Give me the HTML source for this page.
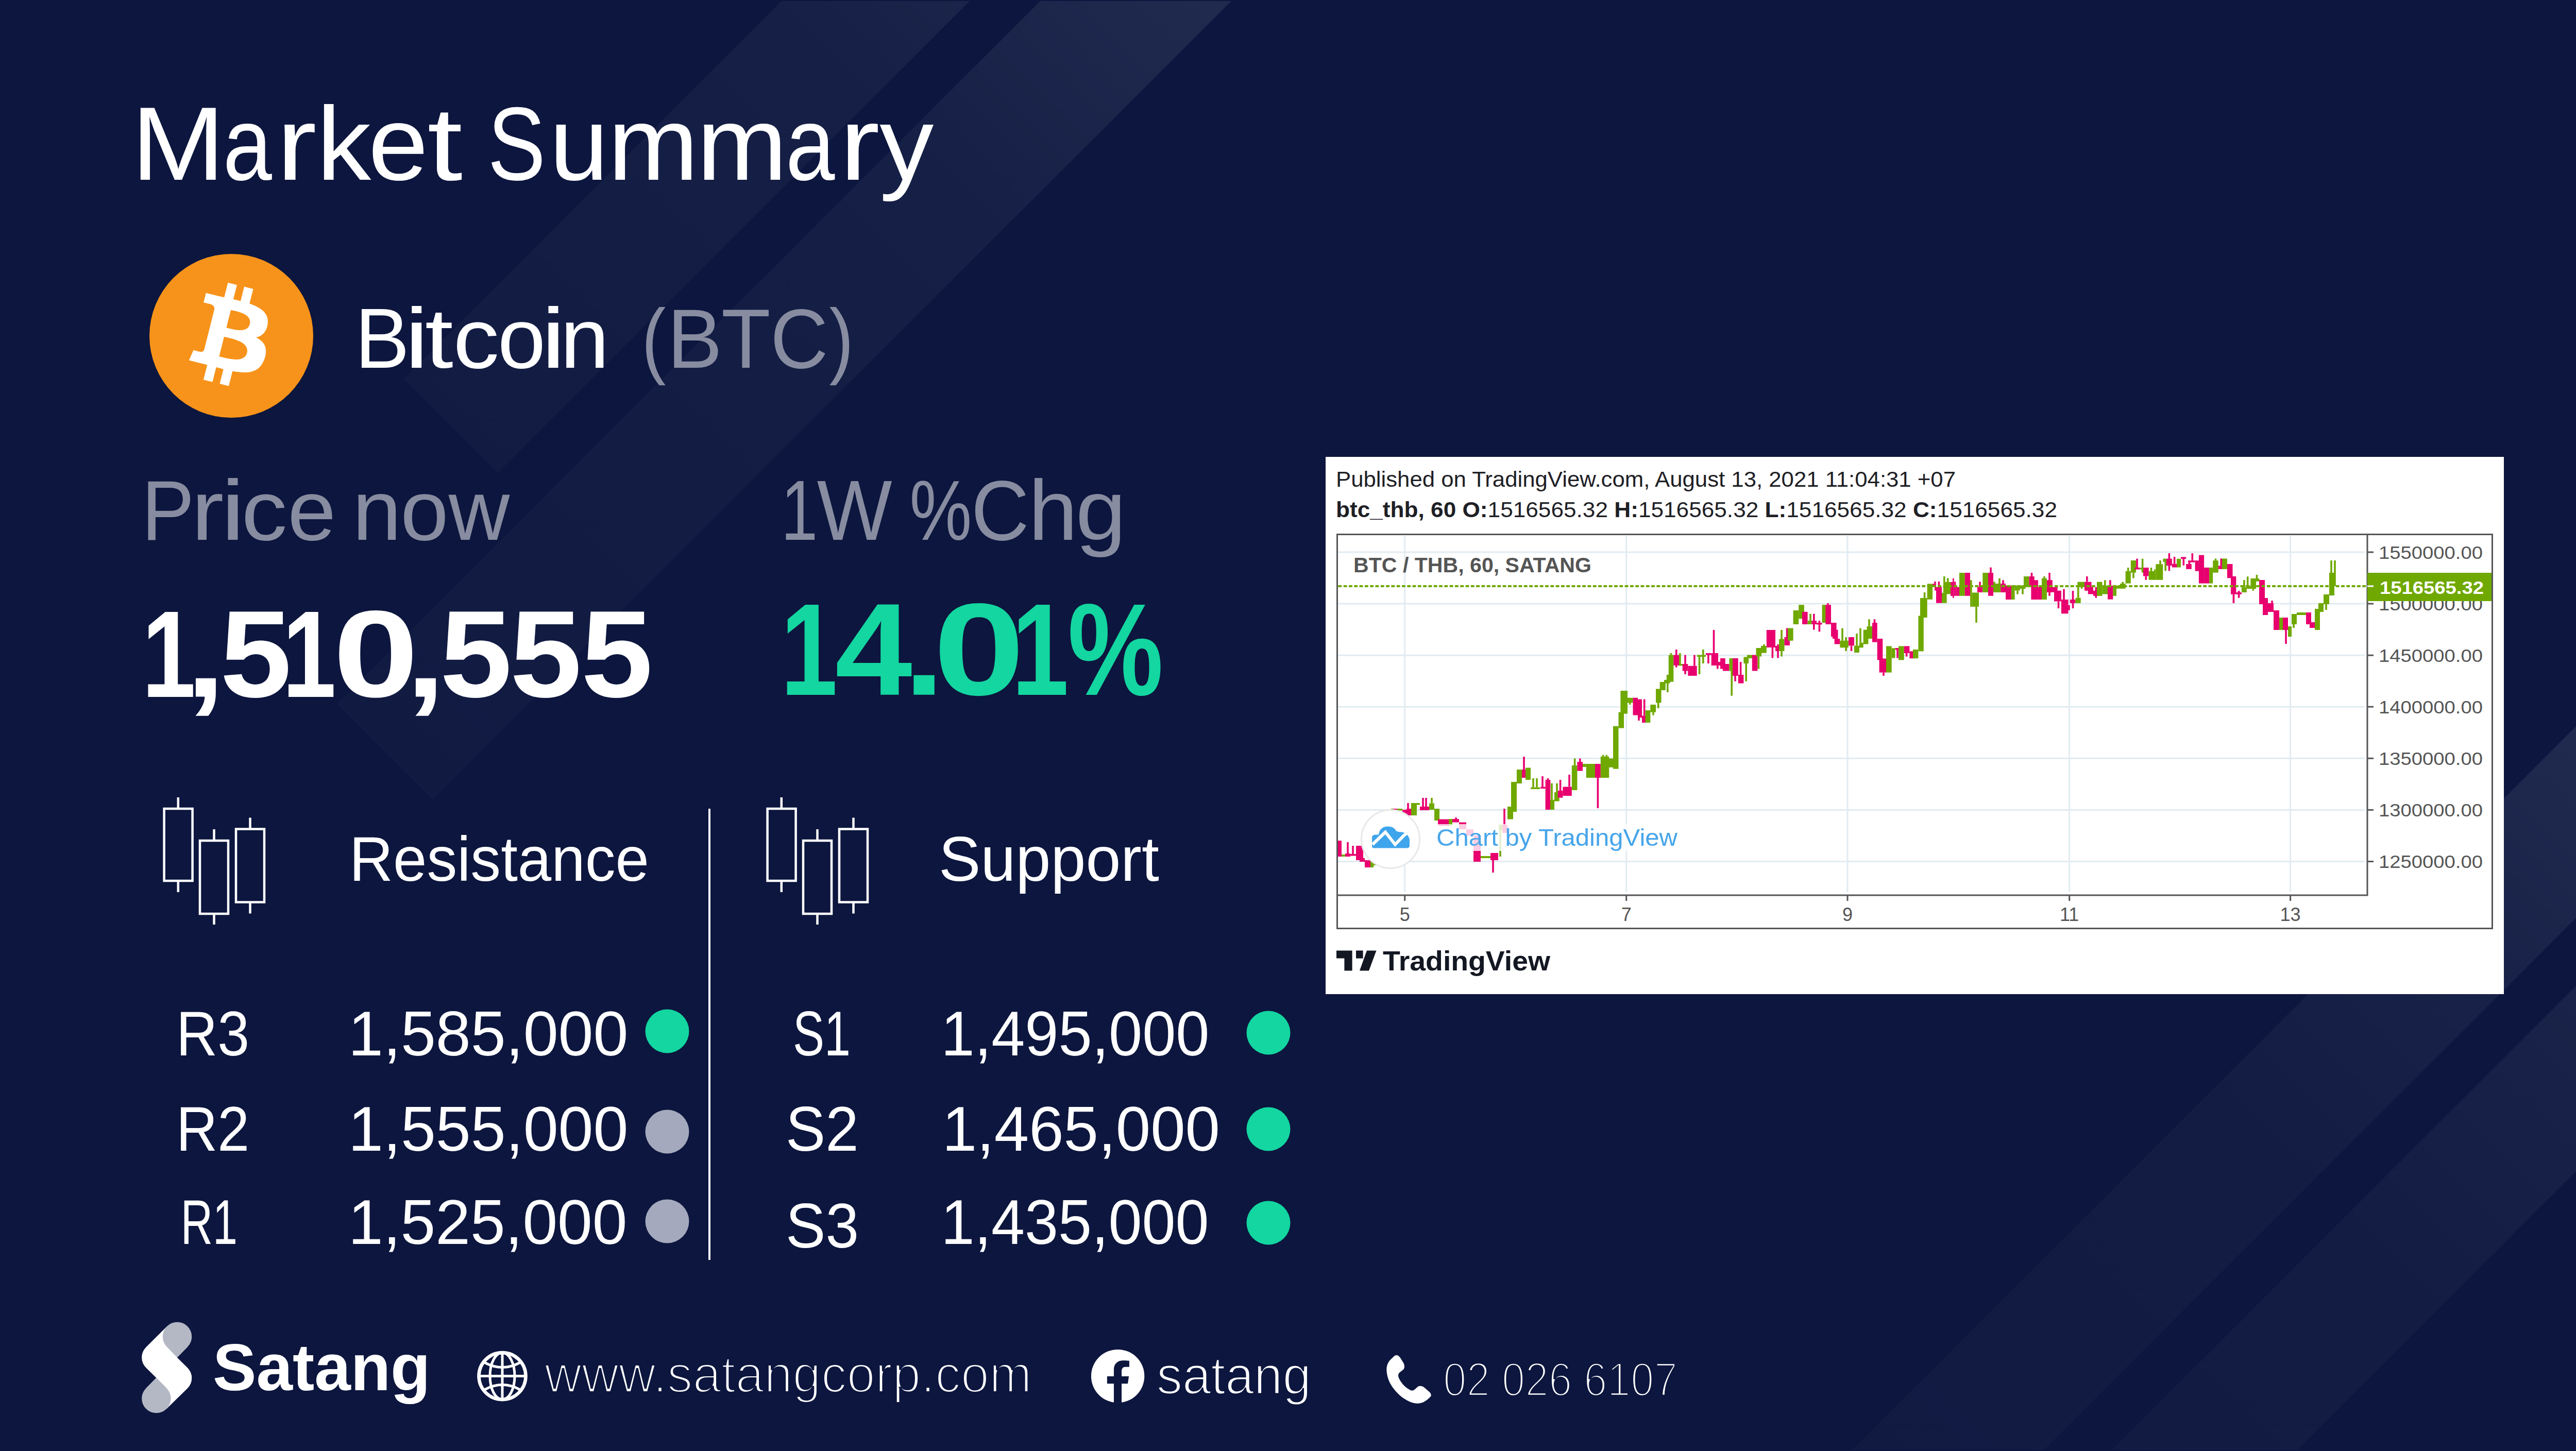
<!DOCTYPE html>
<html><head><meta charset="utf-8"><title>Market Summary</title>
<style>
html,body{margin:0;padding:0;background:#0c163e;overflow:hidden;}
svg{display:block;font-family:"Liberation Sans",sans-serif;}
</style></head>
<body>
<svg width="5004" height="2817" viewBox="0 0 5004 2817">
<rect x="0" y="0" width="5004" height="2817" fill="#0c163e"/>
<defs>
<linearGradient id="bandTL" gradientUnits="userSpaceOnUse" x1="-356" y1="356" x2="1196" y2="-1196">
  <stop offset="0" stop-color="#ffffff" stop-opacity="0.022"/>
  <stop offset="0.33" stop-color="#ffffff" stop-opacity="0.028"/>
  <stop offset="0.71" stop-color="#ffffff" stop-opacity="0.042"/>
  <stop offset="0.89" stop-color="#ffffff" stop-opacity="0.07"/>
  <stop offset="1" stop-color="#ffffff" stop-opacity="0.085"/>
</linearGradient>
<linearGradient id="bandBR" gradientUnits="userSpaceOnUse" x1="388" y1="-388" x2="1798.5" y2="-1798.5">
  <stop offset="0" stop-color="#ffffff" stop-opacity="0.022"/>
  <stop offset="0.5" stop-color="#ffffff" stop-opacity="0.03"/>
  <stop offset="0.79" stop-color="#ffffff" stop-opacity="0.055"/>
  <stop offset="1" stop-color="#ffffff" stop-opacity="0.085"/>
</linearGradient>
<clipPath id="bgclip"><rect x="0" y="2" width="5001" height="2813"/></clipPath>
</defs>
<g clip-path="url(#bgclip)">
<polygon points="1517.0,2.0 1882.0,2.0 966.0,918.0 783.5,735.5" fill="url(#bandTL)"/>
<polygon points="2019.0,2.0 2390.0,2.0 840.0,1552.0 654.5,1366.5" fill="url(#bandTL)"/>
<polygon points="3590.0,2820.0 3962.0,2820.0 5010.0,1772.0 5010.0,1400.0" fill="url(#bandBR)"/>
<polygon points="4094.0,2820.0 4454.0,2820.0 5010.0,2264.0 5010.0,1904.0" fill="url(#bandBR)"/>
</g>
<text transform="translate(255.03,349) scale(1.0720,1)" x="0" y="0" font-size="203.20" fill="#ffffff" >M</text><text transform="translate(432.84,349) scale(0.8412,1)" x="0" y="0" font-size="203.20" fill="#ffffff" >a</text><text transform="translate(536.73,349) scale(1.1496,1)" x="0" y="0" font-size="203.20" fill="#ffffff" >r</text><text transform="translate(614.77,349) scale(1.0377,1)" x="0" y="0" font-size="203.20" fill="#ffffff" >k</text><text transform="translate(714.80,349) scale(1.0303,1)" x="0" y="0" font-size="203.20" fill="#ffffff" >e</text><text transform="translate(829.29,349) scale(1.2158,1)" x="0" y="0" font-size="203.20" fill="#ffffff" >t</text><text transform="translate(946.41,349) scale(0.8302,1)" x="0" y="0" font-size="203.20" fill="#ffffff" >S</text><text transform="translate(1066.42,349) scale(1.0132,1)" x="0" y="0" font-size="203.20" fill="#ffffff" >u</text><text transform="translate(1180.07,349) scale(1.0377,1)" x="0" y="0" font-size="203.20" fill="#ffffff" >m</text><text transform="translate(1352.48,349) scale(1.0370,1)" x="0" y="0" font-size="203.20" fill="#ffffff" >m</text><text transform="translate(1524.91,349) scale(0.8441,1)" x="0" y="0" font-size="203.20" fill="#ffffff" >a</text><text transform="translate(1629.83,349) scale(1.1496,1)" x="0" y="0" font-size="203.20" fill="#ffffff" >r</text><text transform="translate(1707.17,349) scale(1.0340,1)" x="0" y="0" font-size="203.20" fill="#ffffff" >y</text>
<circle cx="449" cy="652" r="159" fill="#f7931a"/>
<g transform="translate(449,652) scale(5.0,4.95) translate(-32,-32)"><path fill="#fff" d="m46.103,27.444c0.637-4.258-2.605-6.547-7.038-8.074l1.438-5.768-3.511-0.875-1.4,5.616c-0.923-0.23-1.871-0.447-2.813-0.662l1.41-5.653-3.509-0.875-1.439,5.766c-0.764-0.174-1.514-0.346-2.242-0.527l0.004-0.018-4.842-1.209-0.934,3.75s2.605,0.597,2.55,0.634c1.422,0.355,1.679,1.296,1.636,2.042l-1.638,6.571c0.098,0.025,0.225,0.061,0.365,0.117-0.117-0.029-0.242-0.061-0.371-0.092l-2.296,9.205c-0.174,0.432-0.615,1.08-1.609,0.834,0.035,0.051-2.552-0.637-2.552-0.637l-1.743,4.019,4.569,1.139c0.85,0.213,1.683,0.436,2.503,0.646l-1.453,5.834,3.507,0.875,1.439-5.772c0.958,0.26,1.888,0.5,2.798,0.726l-1.434,5.745,3.511,0.875,1.453-5.823c5.987,1.133,10.489,0.676,12.384-4.739,1.527-4.36-0.076-6.875-3.226-8.515,2.294-0.529,4.022-2.038,4.483-5.155zm-8.022,11.249c-1.085,4.36-8.426,2.003-10.806,1.412l1.928-7.729c2.38,0.594,10.012,1.77,8.878,6.317zm1.086-11.312c-0.99,3.966-7.1,1.951-9.082,1.457l1.748-7.01c1.982,0.494,8.365,1.416,7.334,5.553z"/></g>
<text transform="translate(688.91,713.9) scale(0.9646,1)" x="0" y="0" font-size="164.51" fill="#ffffff" >B</text><text transform="translate(785.11,713.9) scale(1.3000,1)" x="0" y="0" font-size="164.51" fill="#ffffff" >i</text><text transform="translate(824.83,713.9) scale(1.2038,1)" x="0" y="0" font-size="164.51" fill="#ffffff" >t</text><text transform="translate(879.39,713.9) scale(1.0885,1)" x="0" y="0" font-size="164.51" fill="#ffffff" >c</text><text transform="translate(965.89,713.9) scale(1.0163,1)" x="0" y="0" font-size="164.51" fill="#ffffff" >o</text><text transform="translate(1050.21,713.9) scale(1.3000,1)" x="0" y="0" font-size="164.51" fill="#ffffff" >i</text><text transform="translate(1087.50,713.9) scale(1.0359,1)" x="0" y="0" font-size="164.51" fill="#ffffff" >n</text>
<text transform="translate(1245.34,713.5) scale(0.8653,1)" x="0" y="0" font-size="163.78" fill="#878ca0" >(</text><text transform="translate(1295.20,713.5) scale(0.9769,1)" x="0" y="0" font-size="163.78" fill="#878ca0" >B</text><text transform="translate(1400.08,713.5) scale(0.9553,1)" x="0" y="0" font-size="163.78" fill="#878ca0" >T</text><text transform="translate(1495.22,713.5) scale(0.9499,1)" x="0" y="0" font-size="163.78" fill="#878ca0" >C</text><text transform="translate(1609.53,713.5) scale(0.8722,1)" x="0" y="0" font-size="163.78" fill="#878ca0" >)</text>
<text transform="translate(274.96,1048.1) scale(0.9290,1)" x="0" y="0" font-size="164.95" fill="#878ca0" >P</text><text transform="translate(371.05,1048.1) scale(1.1543,1)" x="0" y="0" font-size="164.95" fill="#878ca0" >r</text><text transform="translate(428.19,1048.1) scale(1.3000,1)" x="0" y="0" font-size="164.95" fill="#878ca0" >i</text><text transform="translate(468.44,1048.1) scale(1.0786,1)" x="0" y="0" font-size="164.95" fill="#878ca0" >c</text><text transform="translate(558.13,1048.1) scale(1.0229,1)" x="0" y="0" font-size="164.95" fill="#878ca0" >e</text><text transform="translate(684.05,1048.1) scale(1.0375,1)" x="0" y="0" font-size="164.95" fill="#878ca0" >n</text><text transform="translate(777.27,1048.1) scale(1.0175,1)" x="0" y="0" font-size="164.95" fill="#878ca0" >o</text><text transform="translate(870.80,1048.1) scale(0.9951,1)" x="0" y="0" font-size="164.95" fill="#878ca0" >w</text>
<text transform="translate(1515.83,1048.1) scale(0.7800,1)" x="0" y="0" font-size="164.95" fill="#878ca0" >1</text><text transform="translate(1585.83,1048.1) scale(0.9369,1)" x="0" y="0" font-size="164.95" fill="#878ca0" >W</text><text transform="translate(1765.44,1048.1) scale(0.8239,1)" x="0" y="0" font-size="164.95" fill="#878ca0" >%</text><text transform="translate(1884.91,1048.1) scale(0.9451,1)" x="0" y="0" font-size="164.95" fill="#878ca0" >C</text><text transform="translate(1996.30,1048.1) scale(1.0393,1)" x="0" y="0" font-size="164.95" fill="#878ca0" >h</text><text transform="translate(2087.81,1048.1) scale(1.0684,1)" x="0" y="0" font-size="164.95" fill="#878ca0" >g</text>
<text transform="translate(275.63,1352.5) scale(0.7800,1)" x="0" y="0" font-size="240.00" font-weight="bold" fill="#ffffff" >1</text><text transform="translate(360.70,1352.5) scale(1.1488,1)" x="0" y="0" font-size="240.00" font-weight="bold" fill="#ffffff" >,</text><text transform="translate(426.88,1352.5) scale(1.0412,1)" x="0" y="0" font-size="240.00" font-weight="bold" fill="#ffffff" >5</text><text transform="translate(548.28,1352.5) scale(0.7800,1)" x="0" y="0" font-size="240.00" font-weight="bold" fill="#ffffff" >1</text><text transform="translate(646.58,1352.5) scale(1.2412,1)" x="0" y="0" font-size="240.00" font-weight="bold" fill="#ffffff" >0</text><text transform="translate(787.70,1352.5) scale(1.1488,1)" x="0" y="0" font-size="240.00" font-weight="bold" fill="#ffffff" >,</text><text transform="translate(853.83,1352.5) scale(1.0480,1)" x="0" y="0" font-size="240.00" font-weight="bold" fill="#ffffff" >5</text><text transform="translate(989.86,1352.5) scale(1.0438,1)" x="0" y="0" font-size="240.00" font-weight="bold" fill="#ffffff" >5</text><text transform="translate(1127.86,1352.5) scale(1.0438,1)" x="0" y="0" font-size="240.00" font-weight="bold" fill="#ffffff" >5</text>
<text transform="translate(1515.33,1348.7) scale(0.7800,1)" x="0" y="0" font-size="254.55" font-weight="bold" fill="#13d6a0" >1</text><text transform="translate(1620.76,1348.7) scale(1.0589,1)" x="0" y="0" font-size="254.55" font-weight="bold" fill="#13d6a0" >4</text><text transform="translate(1754.02,1348.7) scale(1.1221,1)" x="0" y="0" font-size="254.55" font-weight="bold" fill="#13d6a0" >.</text><text transform="translate(1811.55,1348.7) scale(1.2522,1)" x="0" y="0" font-size="254.55" font-weight="bold" fill="#13d6a0" >0</text><text transform="translate(1963.93,1348.7) scale(0.7800,1)" x="0" y="0" font-size="254.55" font-weight="bold" fill="#13d6a0" >1</text><text transform="translate(2072.39,1348.7) scale(0.8190,1)" x="0" y="0" font-size="254.55" font-weight="bold" fill="#13d6a0" >%</text>
<rect x="318.6" y="1570" width="55" height="140" fill="none" stroke="#ffffff" stroke-width="4.5"/><line x1="345.8" y1="1548" x2="345.8" y2="1570" fill="none" stroke="#ffffff" stroke-width="4.5"/><line x1="345.8" y1="1710" x2="345.8" y2="1732" fill="none" stroke="#ffffff" stroke-width="4.5"/><rect x="388" y="1632" width="55" height="142" fill="none" stroke="#ffffff" stroke-width="4.5"/><line x1="415.5" y1="1610" x2="415.5" y2="1632" fill="none" stroke="#ffffff" stroke-width="4.5"/><line x1="415.5" y1="1774" x2="415.5" y2="1795" fill="none" stroke="#ffffff" stroke-width="4.5"/><rect x="458" y="1609.5" width="55" height="142" fill="none" stroke="#ffffff" stroke-width="4.5"/><line x1="485.5" y1="1587.5" x2="485.5" y2="1609.5" fill="none" stroke="#ffffff" stroke-width="4.5"/><line x1="485.5" y1="1751.5" x2="485.5" y2="1773.5" fill="none" stroke="#ffffff" stroke-width="4.5"/>
<rect x="1489.6" y="1570" width="55" height="140" fill="none" stroke="#ffffff" stroke-width="4.5"/><line x1="1516.8" y1="1548" x2="1516.8" y2="1570" fill="none" stroke="#ffffff" stroke-width="4.5"/><line x1="1516.8" y1="1710" x2="1516.8" y2="1732" fill="none" stroke="#ffffff" stroke-width="4.5"/><rect x="1559" y="1632" width="55" height="142" fill="none" stroke="#ffffff" stroke-width="4.5"/><line x1="1586.5" y1="1610" x2="1586.5" y2="1632" fill="none" stroke="#ffffff" stroke-width="4.5"/><line x1="1586.5" y1="1774" x2="1586.5" y2="1795" fill="none" stroke="#ffffff" stroke-width="4.5"/><rect x="1629" y="1609.5" width="55" height="142" fill="none" stroke="#ffffff" stroke-width="4.5"/><line x1="1656.5" y1="1587.5" x2="1656.5" y2="1609.5" fill="none" stroke="#ffffff" stroke-width="4.5"/><line x1="1656.5" y1="1751.5" x2="1656.5" y2="1773.5" fill="none" stroke="#ffffff" stroke-width="4.5"/>
<text x="678" y="1710" font-size="123" fill="#ffffff" textLength="582" lengthAdjust="spacingAndGlyphs" >Resistance</text>
<text x="1822" y="1710" font-size="123" fill="#ffffff" textLength="428" lengthAdjust="spacingAndGlyphs" >Support</text>
<rect x="1375" y="1570" width="4" height="876" fill="#ffffff"/>
<text x="342" y="2049" font-size="123" fill="#ffffff" textLength="142" lengthAdjust="spacingAndGlyphs" >R3</text>
<text x="676" y="2049" font-size="123" fill="#ffffff" textLength="543.5" lengthAdjust="spacingAndGlyphs" >1,585,000</text>
<circle cx="1295" cy="2002" r="42.5" fill="#13d6a0"/>
<text x="342" y="2234" font-size="123" fill="#ffffff" textLength="142" lengthAdjust="spacingAndGlyphs" >R2</text>
<text x="676" y="2234" font-size="123" fill="#ffffff" textLength="543.5" lengthAdjust="spacingAndGlyphs" >1,555,000</text>
<circle cx="1295" cy="2197" r="42.5" fill="#a4a9bd"/>
<text x="350.7" y="2415" font-size="123" fill="#ffffff" textLength="110.30000000000001" lengthAdjust="spacingAndGlyphs" >R1</text>
<text x="676" y="2415" font-size="123" fill="#ffffff" textLength="541.5" lengthAdjust="spacingAndGlyphs" >1,525,000</text>
<circle cx="1295" cy="2371" r="42.5" fill="#a4a9bd"/>
<text x="1539" y="2049" font-size="123" fill="#ffffff" textLength="112" lengthAdjust="spacingAndGlyphs" >S1</text>
<text x="1826.5" y="2049" font-size="123" fill="#ffffff" textLength="521.0" lengthAdjust="spacingAndGlyphs" >1,495,000</text>
<circle cx="2462" cy="2005" r="42.5" fill="#13d6a0"/>
<text x="1525" y="2234" font-size="123" fill="#ffffff" textLength="141.5" lengthAdjust="spacingAndGlyphs" >S2</text>
<text x="1828.7" y="2234" font-size="123" fill="#ffffff" textLength="539.3" lengthAdjust="spacingAndGlyphs" >1,465,000</text>
<circle cx="2462" cy="2192" r="42.5" fill="#13d6a0"/>
<text x="1525" y="2422" font-size="123" fill="#ffffff" textLength="142" lengthAdjust="spacingAndGlyphs" >S3</text>
<text x="1826.5" y="2415" font-size="123" fill="#ffffff" textLength="520.0999999999999" lengthAdjust="spacingAndGlyphs" >1,435,000</text>
<circle cx="2462" cy="2374" r="42.5" fill="#13d6a0"/>
<g><polyline points="344,2594.9 303.4,2635.4 344,2675.3 303.4,2715.1" fill="none" stroke="#fff" stroke-width="56.5" stroke-linejoin="round"/><circle cx="344" cy="2594.9" r="28.24" fill="#b4b8c5"/><polygon points="344,2594.9 363.97,2614.87 343.98,2635.43 324.29,2615.16" fill="#b4b8c5"/><circle cx="303.4" cy="2715.1" r="28.24" fill="#b4b8c5"/><polygon points="303.4,2715.1 283.43,2695.13 303.42,2674.57 323.11,2694.84" fill="#b4b8c5"/></g>
<text x="413" y="2699" font-size="128.5" fill="#ffffff" font-weight="bold" textLength="422.5" lengthAdjust="spacingAndGlyphs" >Satang</text>
<g fill="none" stroke="#fff"><circle cx="975" cy="2671.6" r="45.5" stroke-width="6.6"/><ellipse cx="975" cy="2671.6" rx="24" ry="45.5" stroke-width="5"/><line x1="975" y1="2626" x2="975" y2="2717" stroke-width="5"/><line x1="929" y1="2671.6" x2="1021" y2="2671.6" stroke-width="5"/><path d="M941,2645.5 Q975,2663.7 1009,2645.5" stroke-width="5"/><path d="M941,2697.7 Q975,2679.5 1009,2697.7" stroke-width="5"/></g>
<text x="1057" y="2703" font-size="102" fill="#ffffff" textLength="946" lengthAdjust="spacingAndGlyphs" stroke="#0c163e" stroke-width="4.2">www.satangcorp.com</text>
<circle cx="2169.6" cy="2671.6" r="51.7" fill="#fff"/><g transform="translate(2110,2610) scale(0.08276)"><path fill="#0c163e" d="M628,1375 L628,920 L470,920 L470,750 L628,750 L628,590 C628,450 720,378 850,378 C920,378 960,382 990,385 L990,530 L900,530 C840,530 810,570 810,630 L810,750 L980,750 L955,920 L810,920 L810,1375 Z"/></g>
<text x="2245" y="2705.5" font-size="104" fill="#ffffff" textLength="300" lengthAdjust="spacingAndGlyphs" stroke="#0c163e" stroke-width="3">satang</text>
<g transform="translate(2680,2620) scale(0.07586)"><path fill="#fff" d="M400,145 C440,145 470,170 500,210 L580,340 C610,390 620,470 580,510 L480,590 C450,620 440,660 460,720 C520,870 650,990 760,1040 C800,1055 840,1050 870,1020 L950,950 C1000,920 1060,930 1110,970 L1240,1080 C1300,1130 1300,1190 1260,1220 C1180,1300 1080,1380 950,1380 C700,1380 400,1150 250,880 C180,750 150,620 150,500 C150,400 200,300 260,250 L330,180 C355,158 375,145 400,145 Z"/></g>
<text x="2801" y="2710" font-size="92" fill="#ffffff" textLength="455" lengthAdjust="spacingAndGlyphs" stroke="#0c163e" stroke-width="4.5">02 026 6107</text>
<rect x="2573" y="887" width="2287" height="1043" fill="#ffffff"/>
<text x="2593" y="945" font-size="42" fill="#1e2025" textLength="1203" lengthAdjust="spacingAndGlyphs" >Published on TradingView.com, August 13, 2021 11:04:31 +07</text>
<text x="2593" y="1004.4" font-size="43" fill="#1e2025" textLength="1400" lengthAdjust="spacingAndGlyphs"><tspan font-weight="bold">btc_thb, 60 O:</tspan>1516565.32 <tspan font-weight="bold">H:</tspan>1516565.32 <tspan font-weight="bold">L:</tspan>1516565.32 <tspan font-weight="bold">C:</tspan>1516565.32</text>
<g stroke="#e1ecf2" stroke-width="3"><line x1="2597" y1="1072.0" x2="4590" y2="1072.0"/><line x1="2597" y1="1172.1" x2="4590" y2="1172.1"/><line x1="2597" y1="1272.2" x2="4590" y2="1272.2"/><line x1="2597" y1="1372.2" x2="4590" y2="1372.2"/><line x1="2597" y1="1472.3" x2="4590" y2="1472.3"/><line x1="2597" y1="1572.4" x2="4590" y2="1572.4"/><line x1="2597" y1="1672.5" x2="4590" y2="1672.5"/><line x1="2726.7" y1="1040" x2="2726.7" y2="1732"/><line x1="3156.7" y1="1040" x2="3156.7" y2="1732"/><line x1="3586" y1="1040" x2="3586" y2="1732"/><line x1="4016.7" y1="1040" x2="4016.7" y2="1732"/><line x1="4445.6" y1="1040" x2="4445.6" y2="1732"/></g>
<text x="2627" y="1110.5" font-size="40" fill="#555555" font-weight="bold" textLength="462" lengthAdjust="spacingAndGlyphs" >BTC / THB, 60, SATANG</text>
<g><rect x="2614.2" y="1635.0" width="3.6" height="22.0" fill="#e8006f"/><rect x="2624.2" y="1642.0" width="3.6" height="16.0" fill="#e8006f"/><rect x="2731.2" y="1559.0" width="3.6" height="11.0" fill="#e8006f"/><rect x="2760.2" y="1549.0" width="3.6" height="17.0" fill="#e8006f"/><rect x="2766.2" y="1549.0" width="3.6" height="17.0" fill="#e8006f"/><rect x="2777.2" y="1549.0" width="3.6" height="10.5" fill="#6fa800"/><rect x="2824.2" y="1587.0" width="3.6" height="3.0" fill="#e8006f"/><rect x="2896.2" y="1670.0" width="3.6" height="24.0" fill="#e8006f"/><rect x="2910.2" y="1612.0" width="3.6" height="51.0" fill="#6fa800"/><rect x="2918.2" y="1570.0" width="3.6" height="31.0" fill="#e8006f"/><rect x="2956.2" y="1469.0" width="3.6" height="25.0" fill="#e8006f"/><rect x="2974.2" y="1511.0" width="3.6" height="17.5" fill="#6fa800"/><rect x="2981.2" y="1511.0" width="3.6" height="17.5" fill="#6fa800"/><rect x="2992.2" y="1507.0" width="3.6" height="20.5" fill="#e8006f"/><rect x="3002.7" y="1511.0" width="3.6" height="3.0" fill="#e8006f"/><rect x="3010.2" y="1520.7" width="3.6" height="31.899999999999864" fill="#6fa800"/><rect x="3020.2" y="1520.7" width="3.6" height="17.299999999999955" fill="#6fa800"/><rect x="3026.8" y="1514.0" width="3.6" height="21.0" fill="#e8006f"/><rect x="3044.2" y="1504.0" width="3.6" height="23.5" fill="#e8006f"/><rect x="3054.8" y="1472.5" width="3.6" height="13.5" fill="#6fa800"/><rect x="3065.0" y="1472.5" width="3.6" height="6.5" fill="#e8006f"/><rect x="3099.6" y="1510.0" width="3.6" height="59.0" fill="#e8006f"/><rect x="3109.8" y="1465.7" width="3.6" height="2.8999999999998636" fill="#6fa800"/><rect x="3116.6" y="1465.7" width="3.6" height="2.8999999999998636" fill="#6fa800"/><rect x="3161.9" y="1364.0" width="3.6" height="4.0" fill="#6fa800"/><rect x="3179.2" y="1393.0" width="3.6" height="6.0" fill="#e8006f"/><rect x="3189.9" y="1357.6" width="3.6" height="31.90000000000009" fill="#e8006f"/><rect x="3207.2" y="1382.7" width="3.6" height="5.7999999999999545" fill="#6fa800"/><rect x="3216.9" y="1364.0" width="3.6" height="11.0" fill="#6fa800"/><rect x="3229.2" y="1326.0" width="3.6" height="14.0" fill="#6fa800"/><rect x="3235.0" y="1326.0" width="3.6" height="18.0" fill="#6fa800"/><rect x="3241.7" y="1268.0" width="3.6" height="3.599999999999909" fill="#6fa800"/><rect x="3251.9" y="1261.0" width="3.6" height="34.700000000000045" fill="#e8006f"/><rect x="3259.1" y="1268.0" width="3.6" height="21.0" fill="#6fa800"/><rect x="3269.2" y="1271.6" width="3.6" height="37.40000000000009" fill="#e8006f"/><rect x="3287.1" y="1271.6" width="3.6" height="21.200000000000045" fill="#e8006f"/><rect x="3296.7" y="1274.0" width="3.6" height="35.0" fill="#6fa800"/><rect x="3304.0" y="1261.0" width="3.6" height="27.0" fill="#6fa800"/><rect x="3314.1" y="1268.0" width="3.6" height="20.0" fill="#e8006f"/><rect x="3324.7" y="1223.0" width="3.6" height="45.0" fill="#e8006f"/><rect x="3332.0" y="1292.0" width="3.6" height="6.599999999999909" fill="#e8006f"/><rect x="3359.4" y="1302.0" width="3.6" height="48.700000000000045" fill="#6fa800"/><rect x="3366.2" y="1312.0" width="3.6" height="10.700000000000045" fill="#e8006f"/><rect x="3376.8" y="1285.0" width="3.6" height="25.0" fill="#e8006f"/><rect x="3387.4" y="1288.0" width="3.6" height="34.700000000000045" fill="#6fa800"/><rect x="3411.6" y="1274.0" width="3.6" height="24.59999999999991" fill="#6fa800"/><rect x="3422.2" y="1251.0" width="3.6" height="3.0" fill="#6fa800"/><rect x="3438.6" y="1257.0" width="3.6" height="20.40000000000009" fill="#e8006f"/><rect x="3449.2" y="1251.0" width="3.6" height="26.40000000000009" fill="#e8006f"/><rect x="3456.2" y="1223.0" width="3.6" height="51.5" fill="#6fa800"/><rect x="3466.8" y="1219.5" width="3.6" height="17.5" fill="#e8006f"/><rect x="3512.2" y="1191.7" width="3.6" height="13.299999999999955" fill="#6fa800"/><rect x="3519.0" y="1191.7" width="3.6" height="30.899999999999864" fill="#e8006f"/><rect x="3529.6" y="1205.0" width="3.6" height="21.40000000000009" fill="#e8006f"/><rect x="3546.2" y="1171.0" width="3.6" height="3.2999999999999545" fill="#e8006f"/><rect x="3574.2" y="1219.7" width="3.6" height="24.09999999999991" fill="#6fa800"/><rect x="3581.2" y="1237.0" width="3.6" height="27.0" fill="#6fa800"/><rect x="3591.7" y="1253.5" width="3.6" height="10.5" fill="#e8006f"/><rect x="3602.2" y="1230.0" width="3.6" height="23.5" fill="#6fa800"/><rect x="3609.2" y="1219.7" width="3.6" height="28.0" fill="#6fa800"/><rect x="3626.2" y="1202.3" width="3.6" height="13.5" fill="#6fa800"/><rect x="3636.7" y="1202.3" width="3.6" height="6.7000000000000455" fill="#e8006f"/><rect x="3654.2" y="1305.6" width="3.6" height="6.400000000000091" fill="#e8006f"/><rect x="3681.2" y="1258.0" width="3.6" height="19.59999999999991" fill="#e8006f"/><rect x="3698.8" y="1268.0" width="3.6" height="6.599999999999909" fill="#e8006f"/><rect x="3733.8" y="1150.0" width="3.6" height="11.0" fill="#6fa800"/><rect x="3754.2" y="1129.0" width="3.6" height="4.400000000000091" fill="#e8006f"/><rect x="3761.6" y="1129.0" width="3.6" height="7.0" fill="#e8006f"/><rect x="3772.0" y="1119.0" width="3.6" height="31.700000000000045" fill="#6fa800"/><rect x="3778.9" y="1122.4" width="3.6" height="7.599999999999909" fill="#6fa800"/><rect x="4408.2" y="1166.0" width="3.6" height="5.0" fill="#e8006f"/><rect x="4435.2" y="1223.0" width="3.6" height="27.0" fill="#e8006f"/><rect x="4450.2" y="1212.0" width="3.6" height="7.0" fill="#6fa800"/><rect x="4513.2" y="1173.0" width="3.6" height="11.0" fill="#6fa800"/><rect x="4523.2" y="1088.0" width="3.6" height="50.0" fill="#6fa800"/><rect x="4530.2" y="1088.0" width="3.6" height="50.0" fill="#6fa800"/><rect x="3993.7" y="1167.5" width="3.6" height="13.5" fill="#e8006f"/><rect x="4004.2" y="1143.7" width="3.6" height="20.299999999999955" fill="#e8006f"/><rect x="4021.7" y="1147.0" width="3.6" height="34.0" fill="#e8006f"/><rect x="4032.0" y="1137.0" width="3.6" height="23.700000000000045" fill="#6fa800"/><rect x="4038.8" y="1139.9" width="3.6" height="2.8999999999998636" fill="#6fa800"/><rect x="4049.0" y="1119.0" width="3.6" height="10.700000000000045" fill="#e8006f"/><rect x="4066.5" y="1139.9" width="3.6" height="20.799999999999955" fill="#e8006f"/><rect x="4084.0" y="1126.3" width="3.6" height="10.700000000000045" fill="#6fa800"/><rect x="4094.1" y="1126.3" width="3.6" height="10.700000000000045" fill="#e8006f"/><rect x="4118.4" y="1129.7" width="3.6" height="3.2999999999999545" fill="#6fa800"/><rect x="4128.9" y="1102.0" width="3.6" height="6.7999999999999545" fill="#6fa800"/><rect x="4139.2" y="1111.7" width="3.6" height="10.700000000000045" fill="#6fa800"/><rect x="4146.2" y="1084.6" width="3.6" height="17.40000000000009" fill="#e8006f"/><rect x="4156.8" y="1084.6" width="3.6" height="27.100000000000136" fill="#6fa800"/><rect x="4163.5" y="1118.5" width="3.6" height="7.2999999999999545" fill="#e8006f"/><rect x="4173.7" y="1102.0" width="3.6" height="6.7999999999999545" fill="#6fa800"/><rect x="4181.0" y="1105.4" width="3.6" height="3.3999999999998636" fill="#6fa800"/><rect x="4191.2" y="1088.0" width="3.6" height="7.2000000000000455" fill="#6fa800"/><rect x="4201.4" y="1090.9" width="3.6" height="17.399999999999864" fill="#6fa800"/><rect x="4208.6" y="1074.0" width="3.6" height="34.299999999999955" fill="#e8006f"/><rect x="4218.8" y="1081.0" width="3.6" height="13.700000000000045" fill="#e8006f"/><rect x="3824.1" y="1126.3" width="3.6" height="51.600000000000136" fill="#6fa800"/><rect x="3834.2" y="1177.9" width="3.6" height="30.899999999999864" fill="#6fa800"/><rect x="3841.2" y="1129.4" width="3.6" height="10.399999999999864" fill="#e8006f"/><rect x="3862.2" y="1101.7" width="3.6" height="10.299999999999955" fill="#e8006f"/><rect x="3869.2" y="1129.4" width="3.6" height="3.599999999999909" fill="#6fa800"/><rect x="3879.2" y="1122.7" width="3.6" height="10.299999999999955" fill="#6fa800"/><rect x="3886.2" y="1126.3" width="3.6" height="6.7000000000000455" fill="#e8006f"/><rect x="3914.2" y="1146.5" width="3.6" height="7.099999999999909" fill="#6fa800"/><rect x="3924.2" y="1143.0" width="3.6" height="10.599999999999909" fill="#6fa800"/><rect x="3941.7" y="1112.0" width="3.6" height="7.0" fill="#e8006f"/><rect x="3966.2" y="1119.0" width="3.6" height="3.7000000000000455" fill="#6fa800"/><rect x="3976.2" y="1112.0" width="3.6" height="44.799999999999955" fill="#e8006f"/><rect x="4236.5" y="1084.0" width="3.6" height="13.700000000000045" fill="#e8006f"/><rect x="4247.7" y="1090.9" width="3.6" height="4.099999999999909" fill="#e8006f"/><rect x="4253.5" y="1074.2" width="3.6" height="14.0" fill="#e8006f"/><rect x="4298.7" y="1084.4" width="3.6" height="3.7999999999999545" fill="#6fa800"/><rect x="4309.4" y="1084.4" width="3.6" height="14.0" fill="#e8006f"/><rect x="4333.6" y="1153.8" width="3.6" height="17.100000000000136" fill="#e8006f"/><rect x="4343.8" y="1147.0" width="3.6" height="13.700000000000045" fill="#e8006f"/><rect x="4354.1" y="1126.1" width="3.6" height="14.100000000000136" fill="#6fa800"/><rect x="4360.9" y="1119.3" width="3.6" height="17.5" fill="#6fa800"/><rect x="4371.5" y="1143.2" width="3.6" height="3.3999999999998636" fill="#6fa800"/><rect x="4378.7" y="1115.9" width="3.6" height="7.099999999999909" fill="#6fa800"/><rect x="2597.0" y="1632.0" width="7.0" height="31.0" fill="#e8006f"/><rect x="2604.0" y="1659.0" width="7.0" height="4.0" fill="#6fa800"/><rect x="2611.0" y="1657.0" width="10.0" height="6.0" fill="#e8006f"/><rect x="2621.0" y="1658.0" width="11.0" height="3.5" fill="#e8006f"/><rect x="2632.0" y="1642.0" width="14.0" height="28.0" fill="#e8006f"/><rect x="2639.0" y="1666.0" width="10.0" height="7.0" fill="#e8006f"/><rect x="2649.0" y="1670.0" width="11.0" height="14.0" fill="#e8006f"/><rect x="2660.0" y="1670.0" width="6.0" height="14.0" fill="#6fa800"/><rect x="2666.0" y="1650.0" width="14.0" height="30.0" fill="#6fa800"/><rect x="2680.0" y="1620.0" width="10.0" height="35.0" fill="#6fa800"/><rect x="2690.0" y="1590.0" width="10.0" height="35.0" fill="#6fa800"/><rect x="2700.0" y="1570.0" width="8.0" height="25.0" fill="#6fa800"/><rect x="2704.0" y="1570.0" width="8.0" height="3.5" fill="#e8006f"/><rect x="2712.0" y="1570.0" width="10.0" height="3.5" fill="#6fa800"/><rect x="2722.0" y="1572.0" width="8.0" height="8.0" fill="#e8006f"/><rect x="2730.0" y="1570.0" width="9.0" height="13.0" fill="#e8006f"/><rect x="2739.0" y="1559.0" width="11.0" height="24.0" fill="#6fa800"/><rect x="2750.0" y="1559.0" width="6.0" height="3.5" fill="#6fa800"/><rect x="2756.0" y="1566.0" width="18.0" height="7.0" fill="#e8006f"/><rect x="2774.0" y="1559.5" width="10.0" height="12.5" fill="#6fa800"/><rect x="2784.0" y="1570.0" width="10.0" height="23.0" fill="#6fa800"/><rect x="2791.0" y="1590.5" width="21.0" height="12.900000000000091" fill="#e8006f"/><rect x="2812.0" y="1590.0" width="7.0" height="13.0" fill="#6fa800"/><rect x="2819.0" y="1590.0" width="13.0" height="6.5" fill="#e8006f"/><rect x="2832.0" y="1596.5" width="14.0" height="13.5" fill="#e8006f"/><rect x="2846.0" y="1610.0" width="14.0" height="12.0" fill="#e8006f"/><rect x="2860.0" y="1622.0" width="14.0" height="51.0" fill="#e8006f"/><rect x="2874.0" y="1662.0" width="19.0" height="4.0" fill="#6fa800"/><rect x="2893.0" y="1656.0" width="15.0" height="14.0" fill="#e8006f"/><rect x="2909.0" y="1601.0" width="7.0" height="11.0" fill="#6fa800"/><rect x="2916.0" y="1601.0" width="10.0" height="16.0" fill="#e8006f"/><rect x="2926.0" y="1566.0" width="11.0" height="24.5" fill="#6fa800"/><rect x="2933.0" y="1518.0" width="11.0" height="58.0" fill="#6fa800"/><rect x="2944.0" y="1494.0" width="10.0" height="27.0" fill="#6fa800"/><rect x="2954.0" y="1494.0" width="10.0" height="16.0" fill="#e8006f"/><rect x="2961.0" y="1490.5" width="10.0" height="23.5" fill="#6fa800"/><rect x="2971.0" y="1528.5" width="18.0" height="3.5" fill="#6fa800"/><rect x="2990.0" y="1527.5" width="9.599999999999909" height="3.5" fill="#e8006f"/><rect x="2999.6" y="1514.0" width="9.700000000000273" height="58.0" fill="#e8006f"/><rect x="3009.0" y="1552.6" width="8.0" height="19.40000000000009" fill="#6fa800"/><rect x="3017.0" y="1538.0" width="9.699999999999818" height="17.5" fill="#6fa800"/><rect x="3023.8" y="1535.0" width="9.599999999999909" height="13.700000000000045" fill="#e8006f"/><rect x="3033.4" y="1527.5" width="17.40000000000009" height="17.5" fill="#e8006f"/><rect x="3050.8" y="1486.0" width="10.599999999999909" height="48.0" fill="#6fa800"/><rect x="3061.4" y="1479.0" width="10.599999999999909" height="17.59999999999991" fill="#e8006f"/><rect x="3072.0" y="1483.0" width="6.800000000000182" height="6.0" fill="#6fa800"/><rect x="3078.8" y="1483.0" width="17.199999999999818" height="27.0" fill="#6fa800"/><rect x="3096.0" y="1483.0" width="10.800000000000182" height="27.0" fill="#e8006f"/><rect x="3106.8" y="1468.6" width="16.399999999999636" height="41.40000000000009" fill="#6fa800"/><rect x="3123.0" y="1472.5" width="8.0" height="17.299999999999955" fill="#6fa800"/><rect x="3131.0" y="1409.7" width="10.5" height="83.0" fill="#6fa800"/><rect x="3141.5" y="1382.7" width="10.5" height="30.899999999999864" fill="#6fa800"/><rect x="3145.4" y="1341.0" width="13.599999999999909" height="44.59999999999991" fill="#6fa800"/><rect x="3159.0" y="1354.7" width="10.5" height="9.700000000000045" fill="#6fa800"/><rect x="3169.5" y="1354.7" width="9.5" height="33.799999999999955" fill="#e8006f"/><rect x="3179.0" y="1357.6" width="8.0" height="35.700000000000045" fill="#e8006f"/><rect x="3187.0" y="1389.5" width="9.599999999999909" height="13.5" fill="#e8006f"/><rect x="3193.6" y="1379.0" width="9.700000000000273" height="24.0" fill="#6fa800"/><rect x="3203.3" y="1368.0" width="10.699999999999818" height="14.700000000000045" fill="#6fa800"/><rect x="3214.0" y="1337.4" width="10.5" height="27.0" fill="#6fa800"/><rect x="3221.7" y="1324.0" width="9.600000000000364" height="16.0" fill="#6fa800"/><rect x="3230.0" y="1319.9" width="7.699999999999818" height="6.699999999999818" fill="#6fa800"/><rect x="3234.8" y="1310.0" width="6.799999999999727" height="16.59999999999991" fill="#6fa800"/><rect x="3238.7" y="1271.6" width="9.600000000000364" height="52.100000000000136" fill="#6fa800"/><rect x="3248.3" y="1271.6" width="10.699999999999818" height="20.300000000000182" fill="#e8006f"/><rect x="3259.0" y="1289.0" width="7.699999999999818" height="3.5" fill="#6fa800"/><rect x="3265.7" y="1289.0" width="10.600000000000364" height="13.5" fill="#e8006f"/><rect x="3276.3" y="1292.8" width="17.399999999999636" height="19.200000000000045" fill="#e8006f"/><rect x="3293.7" y="1271.6" width="17.300000000000182" height="3.5" fill="#6fa800"/><rect x="3311.0" y="1268.0" width="10.699999999999818" height="3.5" fill="#e8006f"/><rect x="3321.7" y="1268.0" width="13.300000000000182" height="24.0" fill="#e8006f"/><rect x="3328.5" y="1285.0" width="10.5" height="7.0" fill="#e8006f"/><rect x="3339.0" y="1278.0" width="9.699999999999818" height="20.59999999999991" fill="#e8006f"/><rect x="3343.9" y="1289.0" width="12.5" height="13.5" fill="#e8006f"/><rect x="3356.4" y="1278.0" width="6.599999999999909" height="24.5" fill="#6fa800"/><rect x="3363.0" y="1278.0" width="10.800000000000182" height="34.0" fill="#e8006f"/><rect x="3373.8" y="1310.0" width="10.599999999999909" height="16.59999999999991" fill="#e8006f"/><rect x="3384.4" y="1275.5" width="9.599999999999909" height="12.5" fill="#6fa800"/><rect x="3391.0" y="1271.6" width="10.800000000000182" height="6.400000000000091" fill="#6fa800"/><rect x="3400.8" y="1271.6" width="10.599999999999909" height="30.90000000000009" fill="#e8006f"/><rect x="3408.5" y="1258.0" width="10.5" height="16.5" fill="#6fa800"/><rect x="3418.0" y="1254.0" width="10.800000000000182" height="13.700000000000045" fill="#6fa800"/><rect x="3428.8" y="1223.0" width="17.199999999999818" height="34.0" fill="#e8006f"/><rect x="3446.0" y="1254.0" width="10.800000000000182" height="10.0" fill="#e8006f"/><rect x="3453.0" y="1240.7" width="10.5" height="23.299999999999955" fill="#6fa800"/><rect x="3463.5" y="1237.0" width="10.5" height="16.0" fill="#e8006f"/><rect x="3470.0" y="1219.5" width="10.599999999999909" height="24.299999999999955" fill="#6fa800"/><rect x="3480.6" y="1185.0" width="10.599999999999909" height="27.0" fill="#6fa800"/><rect x="3491.2" y="1174.3" width="10.700000000000273" height="27.0" fill="#6fa800"/><rect x="3498.0" y="1187.8" width="10.599999999999909" height="24.200000000000045" fill="#e8006f"/><rect x="3508.6" y="1205.0" width="7.700000000000273" height="7.0" fill="#6fa800"/><rect x="3516.3" y="1205.0" width="9.699999999999818" height="7.0" fill="#e8006f"/><rect x="3526.0" y="1209.0" width="10.599999999999909" height="3.5" fill="#e8006f"/><rect x="3536.6" y="1174.3" width="7.700000000000273" height="34.700000000000045" fill="#6fa800"/><rect x="3543.4" y="1174.3" width="10.599999999999909" height="37.700000000000045" fill="#e8006f"/><rect x="3554.0" y="1209.0" width="10.599999999999909" height="27.0" fill="#e8006f"/><rect x="3557.0" y="1222.6" width="10.5" height="17.40000000000009" fill="#e8006f"/><rect x="3560.7" y="1240.0" width="10.600000000000364" height="10.5" fill="#e8006f"/><rect x="3571.3" y="1243.8" width="16.399999999999636" height="13.5" fill="#6fa800"/><rect x="3588.0" y="1237.0" width="11.0" height="16.5" fill="#e8006f"/><rect x="3599.0" y="1253.5" width="10.0" height="13.5" fill="#6fa800"/><rect x="3609.0" y="1247.7" width="7.699999999999818" height="9.599999999999909" fill="#6fa800"/><rect x="3616.7" y="1222.6" width="9.700000000000273" height="27.90000000000009" fill="#6fa800"/><rect x="3623.5" y="1215.8" width="10.5" height="24.200000000000045" fill="#6fa800"/><rect x="3634.0" y="1209.0" width="9.699999999999818" height="37.700000000000045" fill="#e8006f"/><rect x="3643.7" y="1240.0" width="10.600000000000364" height="41.40000000000009" fill="#e8006f"/><rect x="3647.6" y="1278.5" width="13.400000000000091" height="27.09999999999991" fill="#e8006f"/><rect x="3661.0" y="1254.4" width="10.699999999999818" height="51.19999999999982" fill="#6fa800"/><rect x="3671.7" y="1258.3" width="6.800000000000182" height="19.299999999999955" fill="#6fa800"/><rect x="3678.5" y="1258.0" width="9.5" height="3.5" fill="#e8006f"/><rect x="3685.0" y="1254.4" width="10.800000000000182" height="27.0" fill="#6fa800"/><rect x="3695.8" y="1254.4" width="10.599999999999909" height="13.599999999999909" fill="#e8006f"/><rect x="3706.4" y="1264.4" width="10.099999999999909" height="13.799999999999955" fill="#e8006f"/><rect x="3713.0" y="1261.0" width="10.400000000000091" height="17.200000000000045" fill="#6fa800"/><rect x="3723.4" y="1195.5" width="10.400000000000091" height="68.90000000000009" fill="#6fa800"/><rect x="3727.0" y="1161.0" width="13.699999999999818" height="38.0" fill="#6fa800"/><rect x="3740.7" y="1133.4" width="10.300000000000182" height="30.399999999999864" fill="#6fa800"/><rect x="3751.0" y="1133.4" width="7.0" height="3.5" fill="#e8006f"/><rect x="3751.0" y="1136.0" width="7.0" height="3.599999999999909" fill="#6fa800"/><rect x="3755.0" y="1139.6" width="3.0" height="6.900000000000091" fill="#e8006f"/><rect x="3758.0" y="1139.6" width="11.0" height="31.100000000000136" fill="#e8006f"/><rect x="3769.0" y="1150.7" width="9.599999999999909" height="20.0" fill="#6fa800"/><rect x="3775.0" y="1130.0" width="11.0" height="23.40000000000009" fill="#6fa800"/><rect x="4385.0" y="1126.0" width="11.0" height="47.0" fill="#e8006f"/><rect x="4392.0" y="1161.0" width="10.0" height="33.0" fill="#e8006f"/><rect x="4402.0" y="1171.0" width="11.0" height="17.0" fill="#e8006f"/><rect x="4413.0" y="1185.0" width="11.0" height="38.0" fill="#e8006f"/><rect x="4424.0" y="1199.0" width="7.0" height="24.0" fill="#6fa800"/><rect x="4431.0" y="1199.0" width="10.0" height="24.0" fill="#e8006f"/><rect x="4441.0" y="1216.0" width="7.0" height="20.0" fill="#6fa800"/><rect x="4448.0" y="1192.0" width="10.0" height="20.0" fill="#6fa800"/><rect x="4458.0" y="1189.0" width="18.0" height="5.0" fill="#6fa800"/><rect x="4476.0" y="1189.0" width="10.0" height="23.0" fill="#e8006f"/><rect x="4483.0" y="1208.0" width="10.0" height="11.0" fill="#e8006f"/><rect x="4493.0" y="1182.0" width="10.0" height="41.0" fill="#6fa800"/><rect x="4500.0" y="1171.0" width="10.0" height="17.0" fill="#6fa800"/><rect x="4510.0" y="1154.0" width="11.0" height="19.0" fill="#6fa800"/><rect x="4521.0" y="1112.0" width="10.0" height="44.0" fill="#6fa800"/><rect x="3980.0" y="1126.3" width="3.400000000000091" height="13.600000000000136" fill="#e8006f"/><rect x="3980.0" y="1139.9" width="13.599999999999909" height="9.699999999999818" fill="#e8006f"/><rect x="3987.0" y="1146.7" width="13.900000000000091" height="20.799999999999955" fill="#e8006f"/><rect x="4000.9" y="1164.0" width="13.599999999999909" height="27.299999999999955" fill="#e8006f"/><rect x="4011.0" y="1174.8" width="6.800000000000182" height="9.700000000000045" fill="#e8006f"/><rect x="4017.8" y="1164.0" width="10.699999999999818" height="6.900000000000091" fill="#e8006f"/><rect x="4028.5" y="1160.7" width="10.199999999999818" height="10.200000000000045" fill="#6fa800"/><rect x="4032.4" y="1129.7" width="13.599999999999909" height="10.200000000000045" fill="#6fa800"/><rect x="4046.0" y="1129.7" width="13.5" height="17.0" fill="#e8006f"/><rect x="4052.8" y="1139.9" width="10.199999999999818" height="13.599999999999909" fill="#e8006f"/><rect x="4063.0" y="1146.7" width="10.599999999999909" height="10.200000000000045" fill="#e8006f"/><rect x="4070.0" y="1129.7" width="10.400000000000091" height="27.200000000000045" fill="#6fa800"/><rect x="4080.4" y="1137.0" width="10.599999999999909" height="16.5" fill="#6fa800"/><rect x="4091.0" y="1137.0" width="10.300000000000182" height="26.59999999999991" fill="#e8006f"/><rect x="4101.3" y="1139.9" width="6.699999999999818" height="17.0" fill="#6fa800"/><rect x="4105.0" y="1137.0" width="10.0" height="5.7999999999999545" fill="#6fa800"/><rect x="4115.0" y="1133.0" width="10.600000000000364" height="9.799999999999955" fill="#6fa800"/><rect x="4125.6" y="1108.8" width="10.199999999999818" height="23.799999999999955" fill="#6fa800"/><rect x="4135.8" y="1088.0" width="10.199999999999818" height="23.700000000000045" fill="#6fa800"/><rect x="4143.0" y="1102.0" width="10.199999999999818" height="3.5" fill="#e8006f"/><rect x="4153.2" y="1102.0" width="6.800000000000182" height="3.5" fill="#6fa800"/><rect x="4160.0" y="1102.0" width="10.699999999999818" height="16.5" fill="#e8006f"/><rect x="4170.7" y="1108.8" width="13.600000000000364" height="17.0" fill="#6fa800"/><rect x="4184.3" y="1095.2" width="14.0" height="30.59999999999991" fill="#6fa800"/><rect x="4198.3" y="1084.6" width="6.699999999999818" height="6.300000000000182" fill="#6fa800"/><rect x="4205.0" y="1084.6" width="10.800000000000182" height="13.5" fill="#e8006f"/><rect x="4215.8" y="1094.7" width="10.199999999999818" height="6.7999999999999545" fill="#e8006f"/><rect x="3786.0" y="1130.0" width="4.0" height="27.0" fill="#e8006f"/><rect x="3790.0" y="1122.7" width="2.699999999999818" height="38.09999999999991" fill="#e8006f"/><rect x="3792.7" y="1129.4" width="3.600000000000364" height="27.399999999999864" fill="#e8006f"/><rect x="3796.3" y="1139.8" width="6.699999999999818" height="17.0" fill="#e8006f"/><rect x="3803.0" y="1112.0" width="10.800000000000182" height="44.799999999999955" fill="#6fa800"/><rect x="3813.8" y="1112.0" width="10.199999999999818" height="44.799999999999955" fill="#e8006f"/><rect x="3827.7" y="1150.5" width="13.300000000000182" height="27.40000000000009" fill="#6fa800"/><rect x="3838.0" y="1139.8" width="10.300000000000182" height="10.200000000000045" fill="#e8006f"/><rect x="3848.3" y="1112.0" width="10.699999999999818" height="38.0" fill="#6fa800"/><rect x="3859.0" y="1112.0" width="10.0" height="44.799999999999955" fill="#e8006f"/><rect x="3869.0" y="1133.0" width="14.199999999999818" height="17.0" fill="#6fa800"/><rect x="3883.2" y="1133.0" width="9.800000000000182" height="17.0" fill="#e8006f"/><rect x="3893.0" y="1136.6" width="10.900000000000091" height="27.40000000000009" fill="#e8006f"/><rect x="3903.9" y="1136.6" width="6.699999999999818" height="27.40000000000009" fill="#6fa800"/><rect x="3910.6" y="1136.6" width="10.300000000000182" height="9.900000000000091" fill="#6fa800"/><rect x="3920.9" y="1136.6" width="10.699999999999818" height="6.400000000000091" fill="#6fa800"/><rect x="3928.0" y="1119.0" width="10.400000000000091" height="20.799999999999955" fill="#6fa800"/><rect x="3938.4" y="1119.0" width="10.299999999999727" height="17.59999999999991" fill="#e8006f"/><rect x="3942.4" y="1126.3" width="13.5" height="37.700000000000045" fill="#e8006f"/><rect x="3955.9" y="1139.8" width="10.299999999999727" height="24.200000000000045" fill="#e8006f"/><rect x="3963.0" y="1122.7" width="9.900000000000091" height="41.299999999999955" fill="#6fa800"/><rect x="3972.9" y="1126.3" width="10.699999999999818" height="23.700000000000045" fill="#e8006f"/><rect x="4225.0" y="1084.8" width="8.0" height="16.700000000000045" fill="#6fa800"/><rect x="4233.0" y="1081.4" width="10.199999999999818" height="3.5" fill="#e8006f"/><rect x="4243.2" y="1095.0" width="10.600000000000364" height="9.900000000000091" fill="#e8006f"/><rect x="4247.0" y="1088.2" width="13.600000000000364" height="3.5" fill="#e8006f"/><rect x="4260.6" y="1088.2" width="7.299999999999272" height="20.5" fill="#e8006f"/><rect x="4267.9" y="1077.6" width="10.200000000000728" height="55.0" fill="#e8006f"/><rect x="4278.1" y="1101.9" width="10.199999999999818" height="30.699999999999818" fill="#e8006f"/><rect x="4288.3" y="1101.9" width="6.899999999999636" height="30.699999999999818" fill="#6fa800"/><rect x="4295.2" y="1088.2" width="10.600000000000364" height="23.5" fill="#6fa800"/><rect x="4305.8" y="1098.4" width="10.199999999999818" height="6.5" fill="#e8006f"/><rect x="4313.0" y="1084.4" width="9.899999999999636" height="20.5" fill="#6fa800"/><rect x="4322.9" y="1095.0" width="10.600000000000364" height="27.299999999999955" fill="#e8006f"/><rect x="4330.0" y="1118.9" width="10.300000000000182" height="34.899999999999864" fill="#e8006f"/><rect x="4340.3" y="1150.0" width="10.599999999999454" height="3.7999999999999545" fill="#e8006f"/><rect x="4350.9" y="1140.2" width="9.900000000000546" height="9.799999999999955" fill="#6fa800"/><rect x="4360.8" y="1136.8" width="7.599999999999454" height="6.400000000000091" fill="#6fa800"/><rect x="4368.4" y="1123.0" width="10.600000000000364" height="20.200000000000045" fill="#6fa800"/><rect x="4379.0" y="1123.0" width="6.399999999999636" height="5.7999999999999545" fill="#6fa800"/></g>
<line x1="2597" y1="1138" x2="4594" y2="1138" stroke="#6fa800" stroke-width="4" stroke-dasharray="6.8,3.5" stroke-dashoffset="-0.4"/>
<circle cx="2699" cy="1629" r="56.5" fill="#ffffff" stroke="#e8e8e8" stroke-width="3"/>
<g transform="translate(2663,1604.5)"><path fill="#3ea5ec" d="M4,42 C1,42 0,40 0,37 L0,22 C0,18 3,16 7,16 L13,16 C14,6 20,0 31,0 C40,0 45,4 47,9 C50,10 54,11 58,11 C66,12 72,18 73,26 L73,37 C73,40 71,42 68,42 Z"/><path d="M1,35 L26,11 L45,35 L62,17.5 L74,8" fill="none" stroke="#ffffff" stroke-width="6"/></g>
<rect x="2782" y="1600" width="478" height="52" fill="#ffffff" fill-opacity="0.8"/>
<text x="2788" y="1642" font-size="47" fill="#47a5ea" textLength="468" lengthAdjust="spacingAndGlyphs" >Chart by TradingView</text>
<g fill="#555555"><rect x="2594" y="1036" width="2245" height="3"/><rect x="2594" y="1801" width="2245" height="3"/><rect x="2594" y="1036" width="3" height="768"/><rect x="4836" y="1036" width="3" height="768"/><rect x="4593.5" y="1036" width="3" height="703"/><rect x="2594" y="1736.5" width="2002" height="3"/><rect x="4595" y="1070.5" width="12" height="3"/><rect x="4595" y="1170.6" width="12" height="3"/><rect x="4595" y="1270.7" width="12" height="3"/><rect x="4595" y="1370.7" width="12" height="3"/><rect x="4595" y="1470.8" width="12" height="3"/><rect x="4595" y="1570.9" width="12" height="3"/><rect x="4595" y="1671.0" width="12" height="3"/><rect x="2725.2" y="1738" width="3" height="11"/><rect x="3155.2" y="1738" width="3" height="11"/><rect x="3584.5" y="1738" width="3" height="11"/><rect x="4015.2" y="1738" width="3" height="11"/><rect x="4444.1" y="1738" width="3" height="11"/></g>
<text x="4617" y="1084.5" font-size="35" fill="#555555" textLength="202" lengthAdjust="spacingAndGlyphs" >1550000.00</text>
<text x="4617" y="1184.58" font-size="35" fill="#555555" textLength="202" lengthAdjust="spacingAndGlyphs" >1500000.00</text>
<text x="4617" y="1284.66" font-size="35" fill="#555555" textLength="202" lengthAdjust="spacingAndGlyphs" >1450000.00</text>
<text x="4617" y="1384.74" font-size="35" fill="#555555" textLength="202" lengthAdjust="spacingAndGlyphs" >1400000.00</text>
<text x="4617" y="1484.82" font-size="35" fill="#555555" textLength="202" lengthAdjust="spacingAndGlyphs" >1350000.00</text>
<text x="4617" y="1584.9" font-size="35" fill="#555555" textLength="202" lengthAdjust="spacingAndGlyphs" >1300000.00</text>
<text x="4617" y="1684.98" font-size="35" fill="#555555" textLength="202" lengthAdjust="spacingAndGlyphs" >1250000.00</text>
<text x="2726.7" y="1788" font-size="36" fill="#555555" text-anchor="middle">5</text>
<text x="3156.7" y="1788" font-size="36" fill="#555555" text-anchor="middle">7</text>
<text x="3586" y="1788" font-size="36" fill="#555555" text-anchor="middle">9</text>
<text x="4016.7" y="1788" font-size="36" fill="#555555" text-anchor="middle">11</text>
<text x="4445.6" y="1788" font-size="36" fill="#555555" text-anchor="middle">13</text>
<rect x="4595" y="1112" width="241" height="55" fill="#6fa800"/>
<rect x="4595" y="1136.5" width="12" height="3" fill="#ffffff"/>
<text x="4619" y="1152.8" font-size="35" fill="#ffffff" font-weight="bold" textLength="202" lengthAdjust="spacingAndGlyphs" >1516565.32</text>
<g fill="#131722"><path d="M2594,1845.4 L2624.6,1845.4 L2624.6,1884.5 L2609.4,1884.5 L2609.4,1860.6 L2594,1860.6 Z"/><rect x="2632" y="1845.4" width="13.6" height="15.2"/><path d="M2653,1845.4 L2671.5,1845.4 L2657,1884.5 L2639,1884.5 Z"/></g>
<text x="2684" y="1884" font-size="54" fill="#131722" font-weight="bold" textLength="325" lengthAdjust="spacingAndGlyphs" >TradingView</text>
</svg>
</body></html>
